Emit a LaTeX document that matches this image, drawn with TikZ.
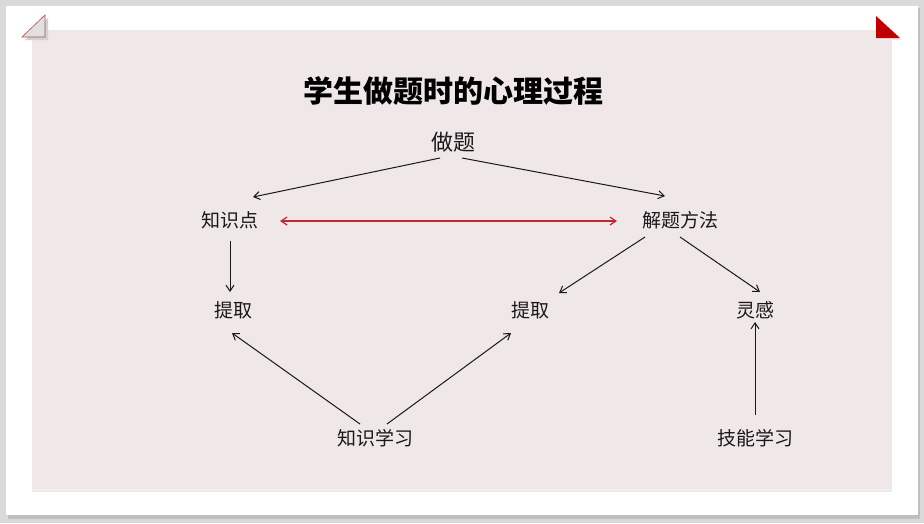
\documentclass[tikz,border=0pt]{standalone}
\usepackage{fontspec}
\newfontfamily\cjk{Noto Sans CJK SC}
\usetikzlibrary{arrows.meta,calc}
\definecolor{bgout}{HTML}{DADADA}
\definecolor{panel}{HTML}{EFE7E8}
\definecolor{redl}{HTML}{C0282E}
\definecolor{tri}{HTML}{C00000}
\begin{document}
\begin{tikzpicture}[x=1pt,y=-1pt,
  lbl/.style={font=\cjk\fontsize{19}{19}\selectfont, inner sep=1pt, text=black!90},
  conn/.style={draw=black!90, line width=1pt, -{Straight Barb[length=6pt,width=8pt]}},
  redconn/.style={draw=redl, line width=1.2pt, {Straight Barb[length=6pt,width=8pt]}-{Straight Barb[length=6pt,width=8pt]}}]
\useasboundingbox (0,0) rectangle (924,523);
\fill[bgout] (0,0) rectangle (924,523);
\fill[black!25] (8,8) rectangle (920,519);
\fill[white] (6,6) rectangle (918,515);
\fill[panel] (32,30) rectangle (892,492);
\draw[white!90!gray, line width=0.6pt] (32,489) -- (892,489);
% corner triangles
\fill[black!18] (25,40) -- (48,18) -- (48,40) -- cycle;
\filldraw[draw=red!40!gray, fill=black!12, line width=0.6pt] (22,37) -- (45,15) -- (45,37) -- cycle;
\fill[white!85!gray] (878,19) -- (878,40) -- (902,40) -- cycle;
\fill[tri] (876,16) -- (876,38) -- (900,38) -- cycle;
% title
\node[font=\cjk\bfseries\fontsize{30}{30}\selectfont, inner sep=0pt] (title) at (453,91) {学生做题时的心理过程};
% nodes
\node[lbl, font=\cjk\fontsize{22}{22}\selectfont] (zt) at (453,142) {做题};
\node[lbl] (zsd) at (230,220) {知识点};
\node[lbl] (jtff) at (680,220) {解题方法};
\node[lbl] (tq1) at (233,310) {提取};
\node[lbl] (tq2) at (530,310) {提取};
\node[lbl] (lg) at (755,310) {灵感};
\node[lbl] (zsxx) at (375,438) {知识学习};
\node[lbl] (jnxx) at (755,438) {技能学习};
% connectors
\draw[conn] ($(zt)+(-13,16)$) -- ($(zsd)+(23,-23)$);
\draw[conn] ($(zt)+(9,16)$) -- ($(jtff)+(-15,-24)$);
\draw[redconn] ($(zsd)+(50,1)$) -- ($(jtff)+(-63,1)$);
\draw[conn] ($(zsd)+(0,21)$) -- ($(tq1)+(-3,-18)$);
\draw[conn] ($(jtff)+(-35,17)$) -- ($(tq2)+(29,-17)$);
\draw[conn] ($(jtff)+(0,17)$) -- ($(lg)+(5,-18)$);
\draw[conn] ($(zsxx)+(-15,-14)$) -- ($(tq1)+(-1,23)$);
\draw[conn] ($(zsxx)+(12,-14)$) -- ($(tq2)+(-19,23)$);
\draw[conn] ($(jnxx)+(0,-23)$) -- ($(lg)+(0,12)$);
\end{tikzpicture}
\end{document}
